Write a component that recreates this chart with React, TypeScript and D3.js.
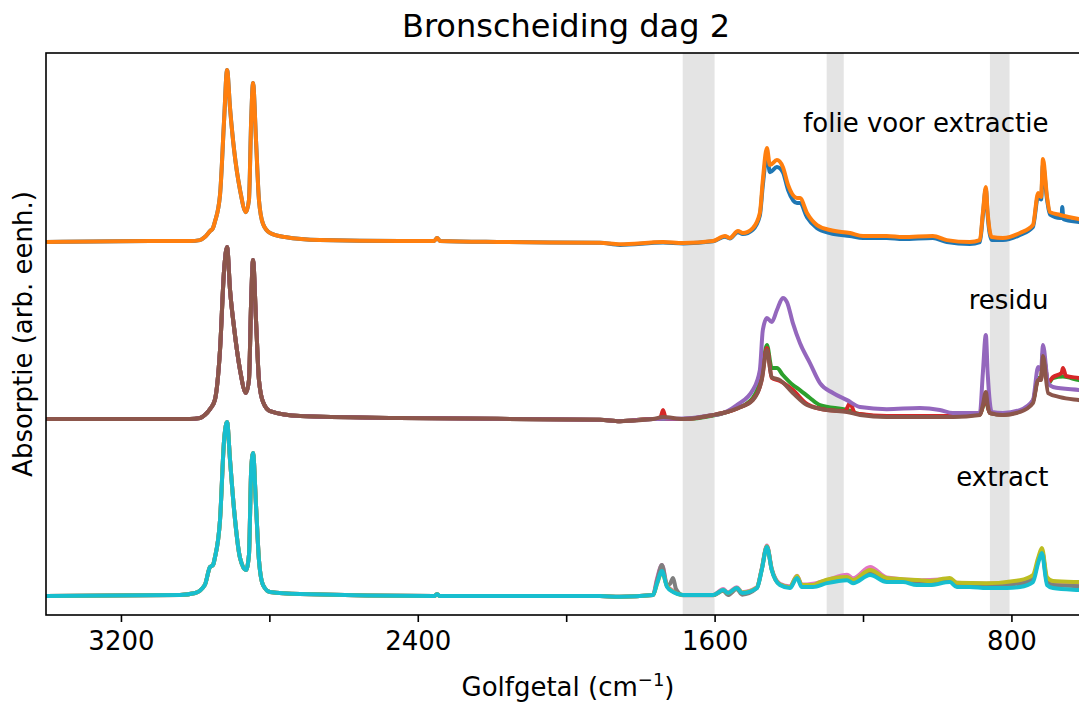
import React, { useEffect, useRef } from 'react';
import * as d3 from 'd3';

const title = 'Bronscheiding dag 2';
const yLabel = 'Absorptie (arb. eenh.)';
const xTicks = [3200, 2800, 2400, 2000, 1600, 1200, 800];
const xLabelTicks = [3200, 2400, 1600, 800];
// wavenumber ranges shaded grey
const bands = [[1686, 1600], [1298, 1252], [858, 805]];

// C-H stretch part, per group: [wavenumber, absorbance]
const folieCH = [[3402,0],[3122,0.006],[3014,0.006],[2987,0.011],[2974,0.028],[2960,0.062],[2952,0.079],[2947,0.113],[2933,0.266],[2922,0.689],[2914,0.972],[2906,0.757],[2895,0.52],[2879,0.294],[2863,0.169],[2855,0.237],[2849,0.689],[2844,0.898],[2836,0.576],[2828,0.237],[2817,0.102],[2798,0.051],[2758,0.028],[2664,0.011],[2448,0.006],[2356,0.006],[2348,0.023],[2340,0.006],[2178,0],[1909,-0.004]];
const residuCH = [[3402,0],[3014,0],[2987,0.006],[2974,0.023],[2960,0.056],[2947,0.107],[2933,0.39],[2922,0.842],[2914,0.972],[2906,0.729],[2895,0.514],[2879,0.277],[2863,0.147],[2855,0.22],[2849,0.672],[2844,0.898],[2836,0.559],[2828,0.22],[2817,0.096],[2798,0.045],[2717,0.017],[2448,0.006],[1909,-0.004],[1855,-0.012]];
const extractCH = [[3402,0],[3041,0.006],[3000,0.017],[2974,0.062],[2960,0.164],[2952,0.175],[2947,0.215],[2933,0.429],[2922,0.881],[2914,0.983],[2906,0.768],[2895,0.486],[2879,0.215],[2863,0.147],[2855,0.232],[2849,0.712],[2844,0.808],[2836,0.514],[2828,0.203],[2817,0.062],[2798,0.023],[2717,0.011],[2356,0],[2348,0.01],[2340,0],[1909,0],[1855,-0.004],[1766,0.006]];

// fingerprint part per spectrum
const folieBlue = [[1855,-0.016],[1739,-0.003],[1685,-0.008],[1604,0.004],[1572,0.03],[1559,0.02],[1537,0.056],[1524,0.045],[1497,0.07],[1478,0.15],[1470,0.32],[1459,0.492],[1451,0.395],[1432,0.424],[1416,0.395],[1402,0.294],[1378,0.22],[1370,0.22],[1351,0.141],[1324,0.079],[1289,0.051],[1235,0.034],[1200,0.023],[1136,0.023],[1092,0.017],[1012,0.023],[974,0],[912,-0.011],[885,0],[877,0.15],[869,0.3],[864,0.15],[853,0.011],[823,0.011],[777,0.04],[742,0.085],[728,0.26],[720,0.24],[715,0.435],[704,0.24],[696,0.155],[669,0.136],[665,0.136],[663,0.198],[660,0.13],[618,0.113],[600,0.108]];
const folieOrange = [[1855,-0.013],[1739,0],[1685,-0.006],[1604,0.006],[1572,0.034],[1559,0.023],[1537,0.062],[1524,0.051],[1497,0.079],[1478,0.164],[1470,0.35],[1459,0.531],[1451,0.435],[1432,0.463],[1416,0.424],[1402,0.322],[1378,0.249],[1370,0.249],[1351,0.164],[1324,0.096],[1289,0.068],[1235,0.051],[1200,0.034],[1136,0.034],[1092,0.028],[1012,0.034],[974,0.011],[912,0],[885,0.011],[877,0.164],[869,0.311],[864,0.164],[853,0.028],[823,0.023],[777,0.051],[742,0.096],[728,0.277],[720,0.254],[715,0.469],[704,0.254],[696,0.169],[669,0.153],[618,0.13],[600,0.124]];
const residuGreen = [[1766,0],[1739,0],[1685,0],[1604,0.02],[1567,0.04],[1537,0.062],[1497,0.119],[1473,0.249],[1459,0.418],[1446,0.288],[1432,0.288],[1416,0.249],[1389,0.192],[1370,0.164],[1343,0.119],[1316,0.079],[1243,0.051],[1208,0.028],[1136,0.015],[958,0.015],[885,0.025],[877,0.07],[869,0.119],[864,0.07],[858,0.034],[823,0.025],[777,0.045],[742,0.1],[728,0.232],[720,0.232],[715,0.379],[701,0.2],[688,0.232],[661,0.24],[618,0.22],[600,0.215]];
const residuRed = [[1766,0],[1747,0],[1739,0.051],[1731,0],[1685,0],[1604,0.023],[1567,0.04],[1537,0.062],[1497,0.11],[1473,0.225],[1459,0.401],[1446,0.232],[1424,0.215],[1389,0.164],[1351,0.085],[1297,0.051],[1248,0.045],[1235,0.09],[1222,0.034],[1208,0.028],[1136,0.017],[958,0.017],[885,0.025],[877,0.075],[869,0.14],[864,0.075],[858,0.034],[823,0.025],[777,0.045],[742,0.1],[728,0.225],[720,0.225],[715,0.37],[701,0.209],[688,0.237],[665,0.26],[661,0.288],[653,0.243],[618,0.232],[600,0.225]];
const residuPurple = [[1766,0],[1685,0.003],[1604,0.023],[1586,0.028],[1540,0.079],[1497,0.164],[1478,0.277],[1470,0.503],[1459,0.571],[1446,0.548],[1432,0.616],[1416,0.684],[1405,0.661],[1389,0.542],[1370,0.429],[1343,0.316],[1316,0.203],[1281,0.147],[1243,0.107],[1208,0.068],[1136,0.056],[1047,0.062],[993,0.051],[958,0.034],[885,0.034],[877,0.26],[869,0.475],[864,0.26],[853,0.04],[823,0.034],[777,0.051],[742,0.107],[728,0.294],[720,0.277],[715,0.418],[701,0.203],[688,0.181],[618,0.164],[600,0.16]];
const residuBrown = [[1766,0],[1739,0.011],[1685,0],[1604,0.023],[1567,0.04],[1537,0.062],[1497,0.107],[1473,0.22],[1459,0.39],[1446,0.237],[1424,0.22],[1389,0.147],[1351,0.079],[1297,0.051],[1243,0.04],[1208,0.023],[1136,0.011],[958,0.011],[885,0.023],[877,0.079],[869,0.153],[864,0.079],[858,0.034],[823,0.023],[777,0.04],[742,0.09],[728,0.22],[720,0.22],[715,0.356],[701,0.147],[669,0.124],[618,0.107],[600,0.102]];
const extractPink = [[1755,0.1],[1742,0.175],[1728,0.06],[1712,0.03],[1685,0.006],[1604,0.006],[1577,0.04],[1564,0.02],[1540,0.05],[1526,0.022],[1486,0.05],[1473,0.155],[1459,0.285],[1446,0.155],[1424,0.07],[1397,0.055],[1378,0.115],[1365,0.065],[1335,0.07],[1297,0.09],[1243,0.12],[1227,0.1],[1181,0.164],[1136,0.105],[1047,0.09],[966,0.095],[947,0.075],[867,0.07],[777,0.08],[742,0.105],[728,0.2],[718,0.26],[704,0.09],[688,0.072],[618,0.068],[600,0.066]];
const extractGray = [[1755,0.09],[1742,0.175],[1728,0.06],[1720,0.07],[1712,0.102],[1704,0.04],[1685,0.004],[1604,0.004],[1577,0.03],[1564,0.006],[1540,0.04],[1526,0.008],[1486,0.045],[1473,0.15],[1459,0.28],[1446,0.15],[1424,0.065],[1397,0.05],[1378,0.108],[1365,0.058],[1335,0.06],[1297,0.082],[1243,0.1],[1227,0.085],[1181,0.136],[1136,0.09],[1047,0.08],[966,0.09],[947,0.066],[867,0.062],[777,0.07],[742,0.1],[728,0.2],[718,0.255],[704,0.08],[688,0.062],[618,0.056],[600,0.055]];
const extractOlive = [[1755,0.07],[1742,0.135],[1728,0.055],[1712,0.025],[1685,0.006],[1604,0.006],[1577,0.034],[1564,0.017],[1540,0.045],[1526,0.02],[1486,0.048],[1473,0.15],[1459,0.28],[1446,0.15],[1424,0.065],[1397,0.05],[1378,0.113],[1365,0.062],[1335,0.062],[1316,0.079],[1243,0.107],[1227,0.09],[1181,0.147],[1136,0.102],[1047,0.09],[1020,0.085],[966,0.102],[947,0.075],[867,0.073],[777,0.09],[742,0.119],[728,0.215],[718,0.271],[704,0.107],[688,0.085],[618,0.079],[600,0.078]];
const extractCyan = [[1755,0.073],[1742,0.141],[1728,0.051],[1712,0.023],[1685,0.006],[1604,0.006],[1577,0.034],[1564,0.017],[1540,0.045],[1526,0.017],[1486,0.045],[1473,0.147],[1459,0.277],[1446,0.147],[1424,0.062],[1397,0.045],[1378,0.102],[1365,0.051],[1335,0.051],[1297,0.073],[1243,0.09],[1227,0.073],[1181,0.119],[1136,0.079],[1092,0.079],[1055,0.062],[1020,0.062],[966,0.079],[947,0.051],[912,0.051],[867,0.045],[812,0.045],[777,0.051],[742,0.079],[728,0.186],[718,0.243],[704,0.062],[688,0.045],[618,0.034],[600,0.032]];

const groupLabels = [
  { text: 'folie voor extractie', offset: 2 },
  { text: 'residu', offset: 1 },
  { text: 'extract', offset: 0 },
];

const series = [
  { color: '#1f77b4', offset: 2, data: folieCH.concat(folieBlue) },
  { color: '#ff7f0e', offset: 2, data: folieCH.concat(folieOrange) },
  { color: '#2ca02c', offset: 1, data: residuCH.concat(residuGreen) },
  { color: '#d62728', offset: 1, data: residuCH.concat(residuRed) },
  { color: '#9467bd', offset: 1, data: residuCH.concat(residuPurple) },
  { color: '#8c564b', offset: 1, data: residuCH.concat(residuBrown) },
  { color: '#e377c2', offset: 0, data: extractCH.concat(extractPink) },
  { color: '#7f7f7f', offset: 0, data: extractCH.concat(extractGray) },
  { color: '#bcbd22', offset: 0, data: extractCH.concat(extractOlive) },
  { color: '#17becf', offset: 0, data: extractCH.concat(extractCyan) },
];

const W = 1079;
const H = 702;
const left = 46, right = 1086, top = 53, bottom = 615;
const font = '"DejaVu Sans", sans-serif';

export default function App() {
  const ref = useRef<SVGSVGElement>(null);

  useEffect(() => {
    const svg = d3.select(ref.current);
    svg.selectAll('*').remove();

    const x = d3.scaleLinear().domain([3402, 599]).range([left, right]);
    const y = d3.scaleLinear().domain([-0.107, 3.068]).range([bottom, top]);

    svg.append('defs').append('clipPath').attr('id', 'plotclip')
      .append('rect').attr('x', left).attr('y', top)
      .attr('width', right - left).attr('height', bottom - top);

    // grey bands
    svg.append('g').selectAll('rect').data(bands).enter().append('rect')
      .attr('x', d => x(d[0]))
      .attr('y', top)
      .attr('width', d => x(d[1]) - x(d[0]))
      .attr('height', bottom - top)
      .attr('fill', '#e4e4e4');

    const line = d3.line<number[]>()
      .x(d => x(d[0]))
      .y(d => y(d[1]))
      .curve(d3.curveMonotoneX);

    const lines = svg.append('g').attr('clip-path', 'url(#plotclip)');
    series.forEach(s => {
      lines.append('path')
        .attr('d', line(s.data.map(p => [p[0], p[1] + s.offset])))
        .attr('fill', 'none')
        .attr('stroke', s.color)
        .attr('stroke-width', 4)
        .attr('stroke-linejoin', 'round')
        .attr('stroke-linecap', 'round');
    });

    // frame
    svg.append('rect')
      .attr('x', left).attr('y', top)
      .attr('width', right - left).attr('height', bottom - top)
      .attr('fill', 'none').attr('stroke', '#000').attr('stroke-width', 1.6);

    // x axis
    const axis = d3.axisBottom(x)
      .tickValues(xTicks)
      .tickSize(7)
      .tickPadding(10)
      .tickFormat(d => (xLabelTicks.includes(+d) ? String(d) : ''));
    const gx = svg.append('g').attr('transform', `translate(0,${bottom})`).call(axis);
    gx.select('.domain').remove();
    gx.selectAll('line').attr('stroke', '#000').attr('stroke-width', 1.6);
    gx.selectAll('text').attr('font-family', font).attr('font-size', 26).attr('fill', '#000');

    // group labels
    svg.append('g').selectAll('text').data(groupLabels).enter().append('text')
      .attr('x', x(700))
      .attr('y', d => y(d.offset + 0.62))
      .attr('text-anchor', 'end')
      .attr('font-family', font)
      .attr('font-size', 26)
      .text(d => d.text);

    // title
    svg.append('text')
      .attr('x', (left + right) / 2).attr('y', 37)
      .attr('text-anchor', 'middle')
      .attr('font-family', font).attr('font-size', 32)
      .text(title);

    // x label
    const xl = svg.append('text')
      .attr('x', (left + right) / 2 + 2).attr('y', 696)
      .attr('text-anchor', 'middle')
      .attr('font-family', font).attr('font-size', 26);
    xl.append('tspan').text('Golfgetal (cm');
    xl.append('tspan').attr('dy', -10).attr('font-size', 18).text('\u22121');
    xl.append('tspan').attr('dy', 10).text(')');

    // y label
    svg.append('text')
      .attr('transform', `translate(32,${(top + bottom) / 2}) rotate(-90)`)
      .attr('text-anchor', 'middle')
      .attr('font-family', font).attr('font-size', 26)
      .text(yLabel);
  }, []);

  return (
    <svg
      ref={ref}
      width={W}
      height={H}
      style={{ position: 'absolute', left: 0, top: 0, background: '#fff' }}
    />
  );
}
